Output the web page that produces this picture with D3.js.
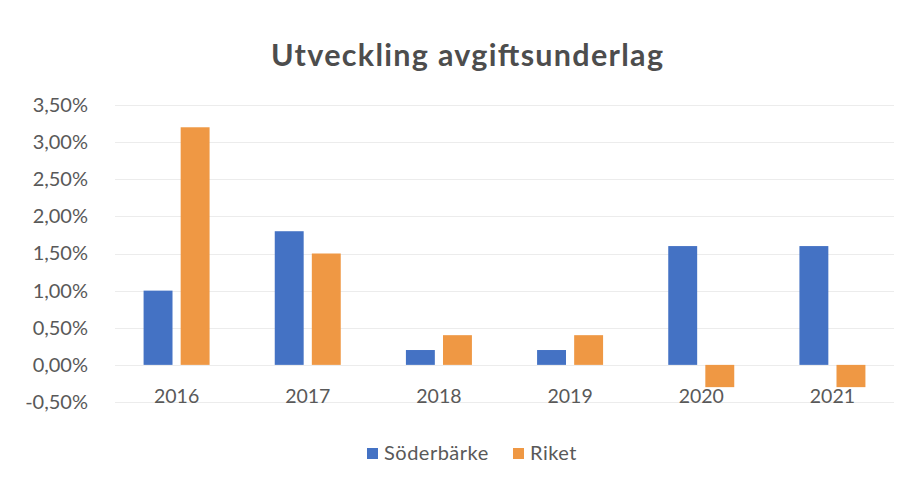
<!DOCTYPE html>
<html>
<head>
<meta charset="utf-8">
<script src="https://cdn.jsdelivr.net/npm/d3@7/dist/d3.min.js"></script>
<style>
  html, body { margin: 0; padding: 0; background: #ffffff; }
  svg { display: block; }
  text { font-family: Lato, "Open Sans", sans-serif; }
</style>
</head>
<body>
<svg id="chart" width="915" height="486"></svg>
<script>
const title = "Utveckling avgiftsunderlag";
const years = ["2016", "2017", "2018", "2019", "2020", "2021"];
const seriesNames = ["Söderbärke", "Riket"];
const soderbarke = [1.0, 1.8, 0.2, 0.2, 1.6, 1.6];
const riket = [3.2, 1.5, 0.4, 0.4, -0.3, -0.3];
const yTicks = [-0.5, 0, 0.5, 1.0, 1.5, 2.0, 2.5, 3.0, 3.5];
const colors = ["#4472c4", "#ef9844"];

const seriesValues = [soderbarke, riket];
const svg = d3.select("#chart");
const W = 915, H = 486;
svg.append("rect").attr("width", W).attr("height", H).attr("fill", "#ffffff");

const plot = { left: 111, right: 898, top: 105, bottom: 402 };

const y = d3.scaleLinear().domain([-0.5, 3.5]).range([plot.bottom, plot.top]);
const x0 = d3.scaleBand().domain(years).range([plot.left, plot.right]).paddingInner(0).paddingOuter(0);
const x1 = d3.scaleBand().domain(seriesNames).range([-33, 33]).paddingInner(0.22);

// gridlines
svg.append("g").selectAll("line").data(yTicks).join("line")
  .attr("x1", plot.left + 4).attr("x2", plot.right - 4)
  .attr("y1", d => Math.round(y(d)) + 0.5).attr("y2", d => Math.round(y(d)) + 0.5)
  .attr("stroke", "#ececec").attr("stroke-width", 1);

// y axis labels
const fmt = d => d3.format(".2f")(d).replace(".", ",").replace("\u2212", "-") + "%";
const yAxis = d3.axisLeft(y).tickValues(yTicks).tickFormat(fmt).tickSize(0).tickPadding(0);
const gy = svg.append("g").attr("transform", "translate(88,0)").call(yAxis);
gy.select(".domain").remove();
gy.selectAll("text")
  .attr("fill", "#595959").attr("font-size", 20).attr("font-family", "Lato, sans-serif");

// bars
const groups = svg.append("g").selectAll("g").data(years).join("g")
  .attr("transform", d => `translate(${x0(d) + x0.bandwidth() / 2},0)`);
groups.selectAll("rect").data((d, i) => seriesNames.map((s, j) => ({ s, j, v: seriesValues[j][i] })))
  .join("rect")
  .attr("x", d => x1(d.s))
  .attr("width", x1.bandwidth())
  .attr("y", d => y(Math.max(0, d.v)))
  .attr("height", d => Math.abs(y(d.v) - y(0)))
  .attr("fill", d => colors[d.j]);

// x axis labels (placed at bottom)
const xAxis = d3.axisBottom(x0).tickSize(0).tickPadding(0);
const gx = svg.append("g").attr("transform", "translate(0,389)").call(xAxis);
gx.select(".domain").remove();
gx.selectAll("text")
  .attr("fill", "#595959").attr("font-size", 19.5).attr("font-family", "Lato, sans-serif")
  .attr("dy", "0.74em");

// title
svg.append("text").attr("x", 467).attr("y", 66).attr("text-anchor", "middle")
  .attr("font-size", 30.5).attr("font-weight", "bold").attr("fill", "#4d4d4d")
  .attr("textLength", 392).attr("lengthAdjust", "spacing")
  .text(title);

// legend
const legendPos = [367, 513];
const lg = svg.append("g").selectAll("g").data(seriesNames).join("g")
  .attr("transform", (d, i) => `translate(${legendPos[i]},448)`);
lg.append("rect").attr("width", 11).attr("height", 11).attr("fill", (d, i) => colors[i]);
lg.append("text").attr("x", 17).attr("y", 11.5).attr("font-size", 20)
  .attr("letter-spacing", 0.5)
  .attr("fill", "#595959").text(d => d);
</script>
</body>
</html>
